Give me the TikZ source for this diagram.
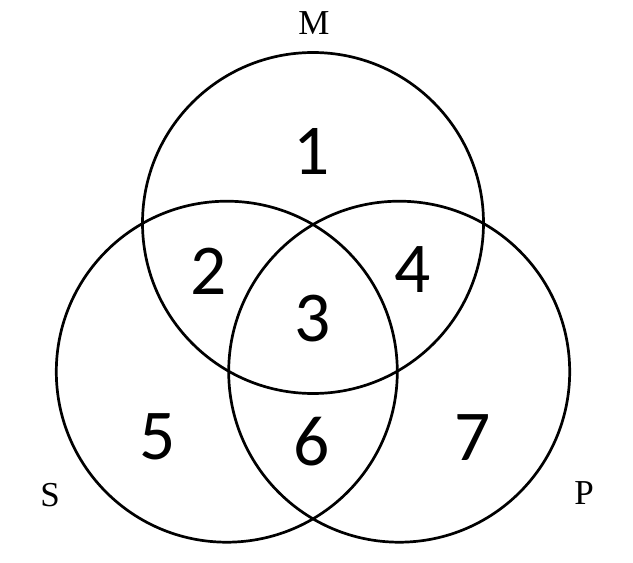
\documentclass[tikz,border=0pt]{standalone}
\usepackage{fontspec}
\setmainfont{Liberation Serif}
\newfontfamily\digitfont{Carlito}
\begin{document}
\begin{tikzpicture}[x=1pt,y=-1pt,
  setcircle/.style={draw=black,line width=2.7pt,circle,minimum size=341pt,inner sep=0pt},
  regionnum/.style={inner sep=0pt,font=\digitfont\fontsize{71.5}{80}\selectfont},
  setlabel/.style={inner sep=0pt,font=\fontsize{35}{40}\selectfont}]
\useasboundingbox (0,0) rectangle (633,563);
\node[setcircle] (cM) at (313,223) {};
\node[setcircle] (cS) at (226.8,371.7) {};
\node[setcircle] (cP) at (399.2,371.7) {};
\node[setlabel] (lM) at (314,23.3) {M};
\node[setlabel] (lS) at (50,495.3) {S};
\node[setlabel] (lP) at (584,493) {P};
\node[regionnum] (r1) at (312,151) {1};
\node[regionnum] (r2) at (208.5,271.5) {2};
\node[regionnum] (r3) at (312.5,318.5) {3};
\node[regionnum] (r4) at (412.5,270) {4};
\node[regionnum] (r5) at (158,436.5) {5};
\node[regionnum] (r6) at (312,442) {6};
\node[regionnum] (r7) at (473,438) {7};
\end{tikzpicture}
\end{document}
